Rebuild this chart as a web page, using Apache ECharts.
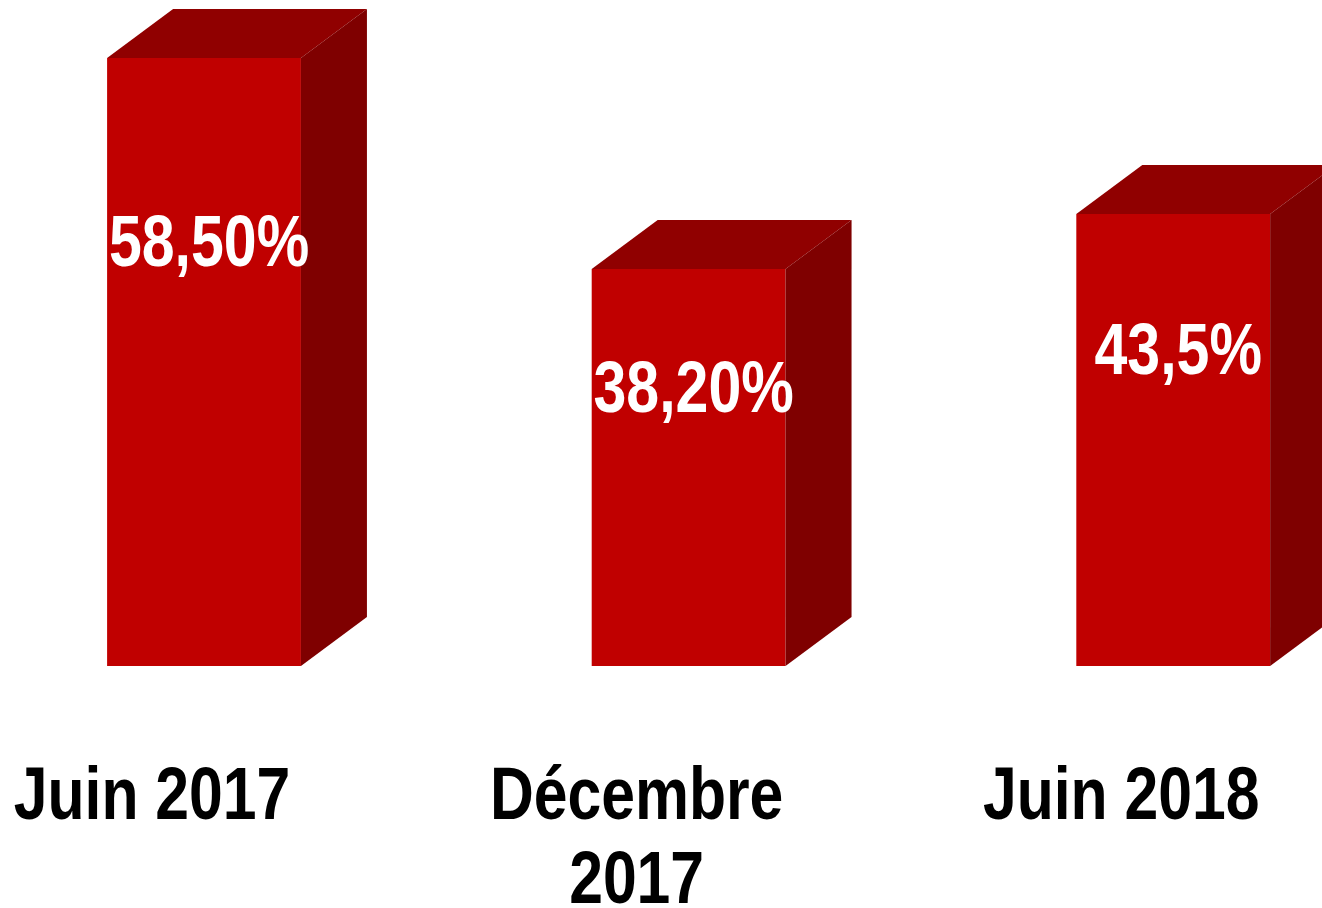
<!DOCTYPE html>
<html>
<head>
<meta charset="utf-8">
<script src="https://cdn.jsdelivr.net/npm/echarts@6/dist/echarts.min.js"></script>
<style>
    html, body { margin: 0; padding: 0; background: #fff; }
    #box { width: 1322px; height: 908px; }
</style>
</head>
<body>
<div id="box"></div>
<script>
var categories = ['Juin 2017', 'Décembre\n2017', 'Juin 2018'];
var values = [58.5, 38.2, 43.5];
var valueLabels = ['58,50%', '38,20%', '43,5%'];

// pas de police étroite installée : Liberation Sans (métrique Arial) compressée à 82%
var font = '"Liberation Sans", Arial, sans-serif';
var narrow = 0.82;

function renderBar(params, api) {
    var i = api.value(0);
    var val = api.value(1);
    var base = api.coord([i, 0]);
    var top = api.coord([i, val]);
    var w = api.size([1, 0])[0] * 0.4;
    var dx = 66, dy = 49; //profondeur 3D
    var x0 = base[0] - w / 2;
    var x1 = base[0] + w / 2;
    var y0 = top[1];
    var y1 = base[1];
    var labelY = api.coord([i, val * 0.69])[1];
    return {
        type: 'group',
        children: [{
            type: 'rect',
            shape: { x: x0, y: y0, width: w, height: y1 - y0 },
            style: { fill: '#C00000' }
        }, {
            type: 'polygon',
            shape: { points: [[x0, y0], [x0 + dx, y0 - dy], [x1 + dx, y0 - dy], [x1, y0]] },
            style: { fill: '#900000' }
        }, {
            type: 'polygon',
            shape: { points: [[x1, y0], [x1 + dx, y0 - dy], [x1 + dx, y1 - dy], [x1, y1]] },
            style: { fill: '#7F0000' }
        }, {
            type: 'text',
            x: base[0] + 5,
            y: labelY,
            scaleX: narrow,
            style: {
                text: valueLabels[params.dataIndex],
                x: 0,
                y: 0,
                align: 'center',
                verticalAlign: 'middle',
                fill: '#fff',
                font: 'bold 72px ' + font
            }
        }, {
            // étiquette de catégorie sous la barre
            type: 'text',
            x: base[0] - 52,
            y: y1 + 91,
            scaleX: narrow,
            style: {
                text: categories[params.dataIndex],
                x: 0,
                y: 0,
                align: 'center',
                verticalAlign: 'top',
                lineHeight: 84,
                fill: '#000',
                font: 'bold 74px ' + font
            }
        }]
    };
}

var myChart = echarts.init(document.getElementById('box'));
var option = {
    backgroundColor: '#fff',
    animation: false,
    grid: { left: 0, right: 0, top: 42.4, bottom: 242 },
    xAxis: {
        type: 'value',
        min: -0.421,
        max: 2.307,
        show: false
    },
    yAxis: {
        type: 'value',
        min: 0,
        max: 60,
        show: false
    },
    series: [{
        type: 'custom',
        renderItem: renderBar,
        clip: false,
        data: values.map(function (v, i) { return [i, v]; })
    }]
};
myChart.setOption(option);
</script>
</body>
</html>
